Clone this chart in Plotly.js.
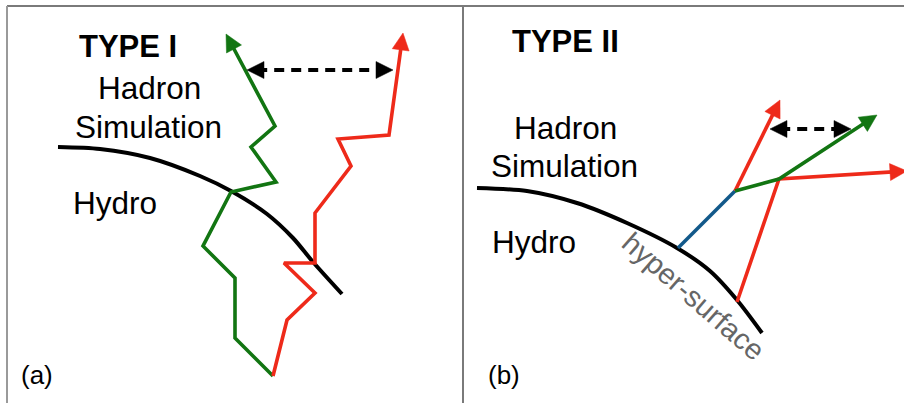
<!DOCTYPE html>
<html>
<head>
<meta charset="utf-8">
<script src="https://cdn.plot.ly/plotly-3.0.1.min.js"></script>
<style>html,body{margin:0;padding:0;background:#fff;}#chart{width:904px;height:403px;}</style>
</head>
<body>
<div id="chart"></div>
<script>
// ---- Diagram data (pixel-space coordinates of the schematic) ----
const frameTopX = [7, 904];           const frameTopY = [6, 6];
const frameLeftX = [7, 7];            const frameLeftY = [6, 403];
const dividerX = [463, 463];          const dividerY = [6, 403];

// Panel (a) TYPE I
const curveA_x = [58, 100, 150, 200, 231, 267, 293, 313, 342];
const curveA_y = [147, 149, 158, 176, 191, 214, 238, 262, 294];
const greenA_x = [273, 235, 235, 203, 231, 276, 251, 275, 226];
const greenA_y = [376, 338, 278, 246, 192, 182, 147, 126, 34];
const redA_x = [273, 287, 315, 284, 315, 315, 351, 338, 389, 403];
const redA_y = [376, 320, 293, 263, 263, 213, 166, 139, 135, 33];
const dashA_x = [247, 393];
const dashA_y = [70, 70];

// Panel (b) TYPE II
const curveB_x = [477, 527, 577, 627, 677, 710, 737, 762];
const curveB_y = [188, 191, 203, 223, 248, 271, 300, 333];
const blueB_x = [678, 735];
const blueB_y = [248, 191];
const greenB_x = [735, 779, 877];
const greenB_y = [191, 179, 115];
const red1B_x = [735, 780];
const red1B_y = [191, 100];
const red2B_x = [737, 779, 907];
const red2B_y = [302, 179, 171];
const dashB_x = [770, 851];
const dashB_y = [129, 129];

// Labels
const labelTexts = ["TYPE I", "Hadron", "Simulation", "Hydro", "(a)",
                    "TYPE II", "Hadron", "Simulation", "Hydro", "(b)"];
const labelX = [128, 149, 148.5, 114.5, 37, 565, 565, 564.5, 533.5, 503.5];
const labelY = [46.5, 88, 127, 202.5, 375, 41, 127.5, 165.5, 242, 375];
const labelBold = [true, false, false, false, false, true, false, false, false, false];
const surfaceLabel = "hyper-surface";
const surfaceLabelPos = [693, 296];

// ---- Styles ----
const GREEN = '#127512', RED = '#ee2a1a', BLUE = '#12598a', BLACK = '#000000', FRAME = '#7a7a7a';
const HEAD_LEN = 17, HEAD_HW = 8.5;

const traces = [];
function line(xs, ys, color, width, extra) {
  traces.push({x: xs, y: ys, mode: 'lines', hoverinfo: 'skip',
    line: Object.assign({color: color, width: width}, extra || {})});
}
function head(tx, ty, fx, fy, color) {
  const dx = tx - fx, dy = ty - fy, L = Math.hypot(dx, dy);
  const ux = dx / L, uy = dy / L;
  const bx = tx - ux * HEAD_LEN, by = ty - uy * HEAD_LEN;
  const px = -uy * HEAD_HW, py = ux * HEAD_HW;
  traces.push({x: [tx, bx + px, bx - px, tx], y: [ty, by + py, by - py, ty],
    mode: 'lines', fill: 'toself', fillcolor: color, line: {color: color, width: 0.5}, hoverinfo: 'skip'});
  return [tx - ux * HEAD_LEN * 0.6, ty - uy * HEAD_LEN * 0.6];
}
function arrowPath(xs, ys, color, width) {
  const n = xs.length;
  const b = head(xs[n - 1], ys[n - 1], xs[n - 2], ys[n - 2], color);
  const lx = xs.slice(0, n - 1).concat([b[0]]);
  const ly = ys.slice(0, n - 1).concat([b[1]]);
  line(lx, ly, color, width);
}
function doubleDash(xs, ys) {
  const b1 = head(xs[0], ys[0], xs[1], ys[1], BLACK);
  const b2 = head(xs[1], ys[1], xs[0], ys[0], BLACK);
  line([b1[0], b2[0]], [b1[1], b2[1]], BLACK, 4, {dash: '10px,7px'});
}

// frame
line(frameTopX, frameTopY, FRAME, 2);
line(frameLeftX, frameLeftY, '#9a9a9a', 2);
line(dividerX, dividerY, FRAME, 2);

// panel a
line(curveA_x, curveA_y, BLACK, 4, {shape: 'spline', smoothing: 0.8});
arrowPath(greenA_x, greenA_y, GREEN, 3.6);
arrowPath(redA_x, redA_y, RED, 3.6);
doubleDash(dashA_x, dashA_y);

// panel b
line(curveB_x, curveB_y, BLACK, 4, {shape: 'spline', smoothing: 0.8});
line(blueB_x, blueB_y, BLUE, 3.6);
arrowPath(red1B_x, red1B_y, RED, 3.6);
arrowPath(red2B_x, red2B_y, RED, 3.6);
arrowPath(greenB_x, greenB_y, GREEN, 3.6);
doubleDash(dashB_x, dashB_y);

const annotations = labelTexts.map((t, i) => ({
  text: labelBold[i] ? '<b>' + t + '</b>' : t,
  x: labelX[i], y: labelY[i], xref: 'x', yref: 'y', showarrow: false,
  xanchor: 'center', yanchor: 'middle',
  font: {family: 'Liberation Sans, Arial, sans-serif', size: labelBold[i] ? 31 : (t.startsWith('(') ? 26 : 31.5), color: '#000'}
}));
annotations.push({
  text: surfaceLabel, x: surfaceLabelPos[0], y: surfaceLabelPos[1], xref: 'x', yref: 'y',
  showarrow: false, textangle: 41, xanchor: 'center', yanchor: 'middle',
  font: {family: 'Liberation Sans, Arial, sans-serif', size: 29, color: '#666666'}
});

const layout = {
  width: 904, height: 403,
  margin: {l: 0, r: 0, t: 0, b: 0},
  paper_bgcolor: '#ffffff', plot_bgcolor: '#ffffff',
  showlegend: false,
  xaxis: {range: [0, 904], visible: false, fixedrange: true},
  yaxis: {range: [403, 0], visible: false, fixedrange: true},
  annotations: annotations
};
Plotly.newPlot('chart', traces, layout, {displayModeBar: false, staticPlot: true});
</script>
</body>
</html>
